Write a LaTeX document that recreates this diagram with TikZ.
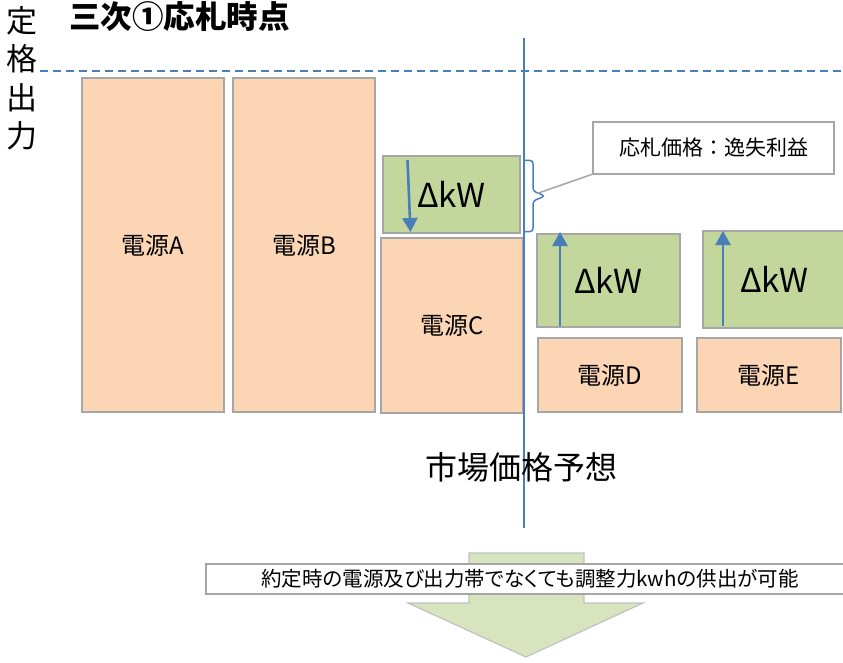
\documentclass[tikz,border=0pt]{standalone}
\usepackage{fontspec}
\setmainfont{Noto Sans CJK JP}
\newfontfamily\paltfont[RawFeature=+palt]{Noto Sans CJK JP}
\usetikzlibrary{arrows.meta}
\definecolor{peach}{RGB}{252,213,181}
\definecolor{kwgreen}{RGB}{195,214,155}
\definecolor{lightgreen}{RGB}{215,228,189}
\definecolor{boxgray}{RGB}{166,166,166}
\definecolor{lineblue}{RGB}{74,126,187}
\begin{document}
\begin{tikzpicture}[x=1pt,y=-1pt,
  srcbox/.style={fill=peach,draw=boxgray,line width=1.5pt,inner sep=0pt,outer sep=0pt,font=\fontsize{24}{28}\selectfont},
  kwbox/.style={fill=kwgreen,draw=boxgray,line width=1.5pt,inner sep=0pt,outer sep=0pt,font=\fontsize{33}{38}\selectfont},
  calloutbox/.style={fill=white,draw=boxgray,line width=1.5pt,inner sep=0pt,outer sep=0pt,font=\fontsize{21}{25}\selectfont},
  blueline/.style={draw=lineblue,line width=2pt},
  bluearrow/.style={draw=lineblue,line width=2.6pt,-{Triangle[width=15pt,length=14pt]}},
  plain/.style={inner sep=0pt,outer sep=0pt}]
\useasboundingbox (0,0) rectangle (843,663);

% title and axis label
\node[plain,anchor=west,font=\fontsize{31.5}{36}\selectfont\bfseries] (title) at (69,17) {三次①応札時点};
\node[plain,align=center,font=\fontsize{31}{38.5}\selectfont] (axis) at (22,78.5) {定\\格\\出\\力};

% rated output dashed line
\coordinate (dl) at (40,71);
\coordinate (dr) at (843,71);
\draw[blueline,dash pattern=on 8pt off 5pt] (dl) -- (dr);

% sources
\node[srcbox,minimum width=142pt,minimum height=334pt] (A) at (153,245) {電源A};
\node[srcbox,minimum width=142pt,minimum height=334pt] (B) at (304,245) {電源B};
\node[kwbox,minimum width=137pt,minimum height=77pt] (kwC) at (451.5,194.5) {ΔkW};
\node[srcbox,minimum width=142pt,minimum height=175pt] (C) at (452,325.5) {電源C};
\node[kwbox,minimum width=143pt,minimum height=93pt] (kwD) at (608.5,280.5) {ΔkW};
\node[srcbox,minimum width=144pt,minimum height=74pt] (D) at (610,375) {電源D};
\node[kwbox,minimum width=143pt,minimum height=97pt] (kwE) at (774.5,279.5) {ΔkW};
\node[srcbox,minimum width=144pt,minimum height=74pt] (E) at (769,375) {電源E};

% blue arrows inside the kW boxes
\coordinate (cTop) at (407.5,160);
\coordinate (cBot) at (410.5,232);
\draw[bluearrow] (cTop) -- (cBot);
\coordinate (dBot) at (560,326);
\coordinate (dTop) at (560,232);
\draw[bluearrow] (dBot) -- (dTop);
\coordinate (eBot) at (723,326);
\coordinate (eTop) at (723,231);
\draw[bluearrow] (eBot) -- (eTop);

% market price line
\coordinate (vtop) at (524,38);
\coordinate (vbot) at (524,528);
\draw[blueline] (vtop) -- (vbot);
\node[plain,font=\fontsize{32}{36}\selectfont] (market) at (521,467.5) {市場価格予想};

% brace and callout
\coordinate (bTop) at (524,160.5);
\coordinate (bBot) at (524,231.5);
\coordinate (bTip) at (545,196);
\draw[draw=lineblue,line width=1.5pt,rounded corners=3pt] (bTop) -- (533,160.5) -- (533,191) -- (bTip) -- (533,201) -- (533,231.5) -- (bBot);
\node[calloutbox,minimum width=241pt,minimum height=52pt] (callout) at (713.5,148) {応札価格：逸失利益};
\coordinate (cl) at (537,193.5);
\draw[draw=boxgray,line width=1.5pt] (cl) -- (callout.south west);

% bottom arrow and message
\draw[fill=lightgreen,draw=boxgray!70,line width=1.2pt] (469,553) -- (584,553) -- (584,603) -- (643,603) -- (526,657) -- (408,603) -- (469,603) -- cycle;
\node[fill=white,draw=boxgray,line width=1.5pt,inner sep=0pt,outer sep=0pt,minimum width=648pt,minimum height=30pt,font=\fontsize{20.5}{24}\selectfont\paltfont] (msg) at (530,579) {約定時の電源及び出力帯でなくても調整力kwhの供出が可能};
\end{tikzpicture}
\end{document}
